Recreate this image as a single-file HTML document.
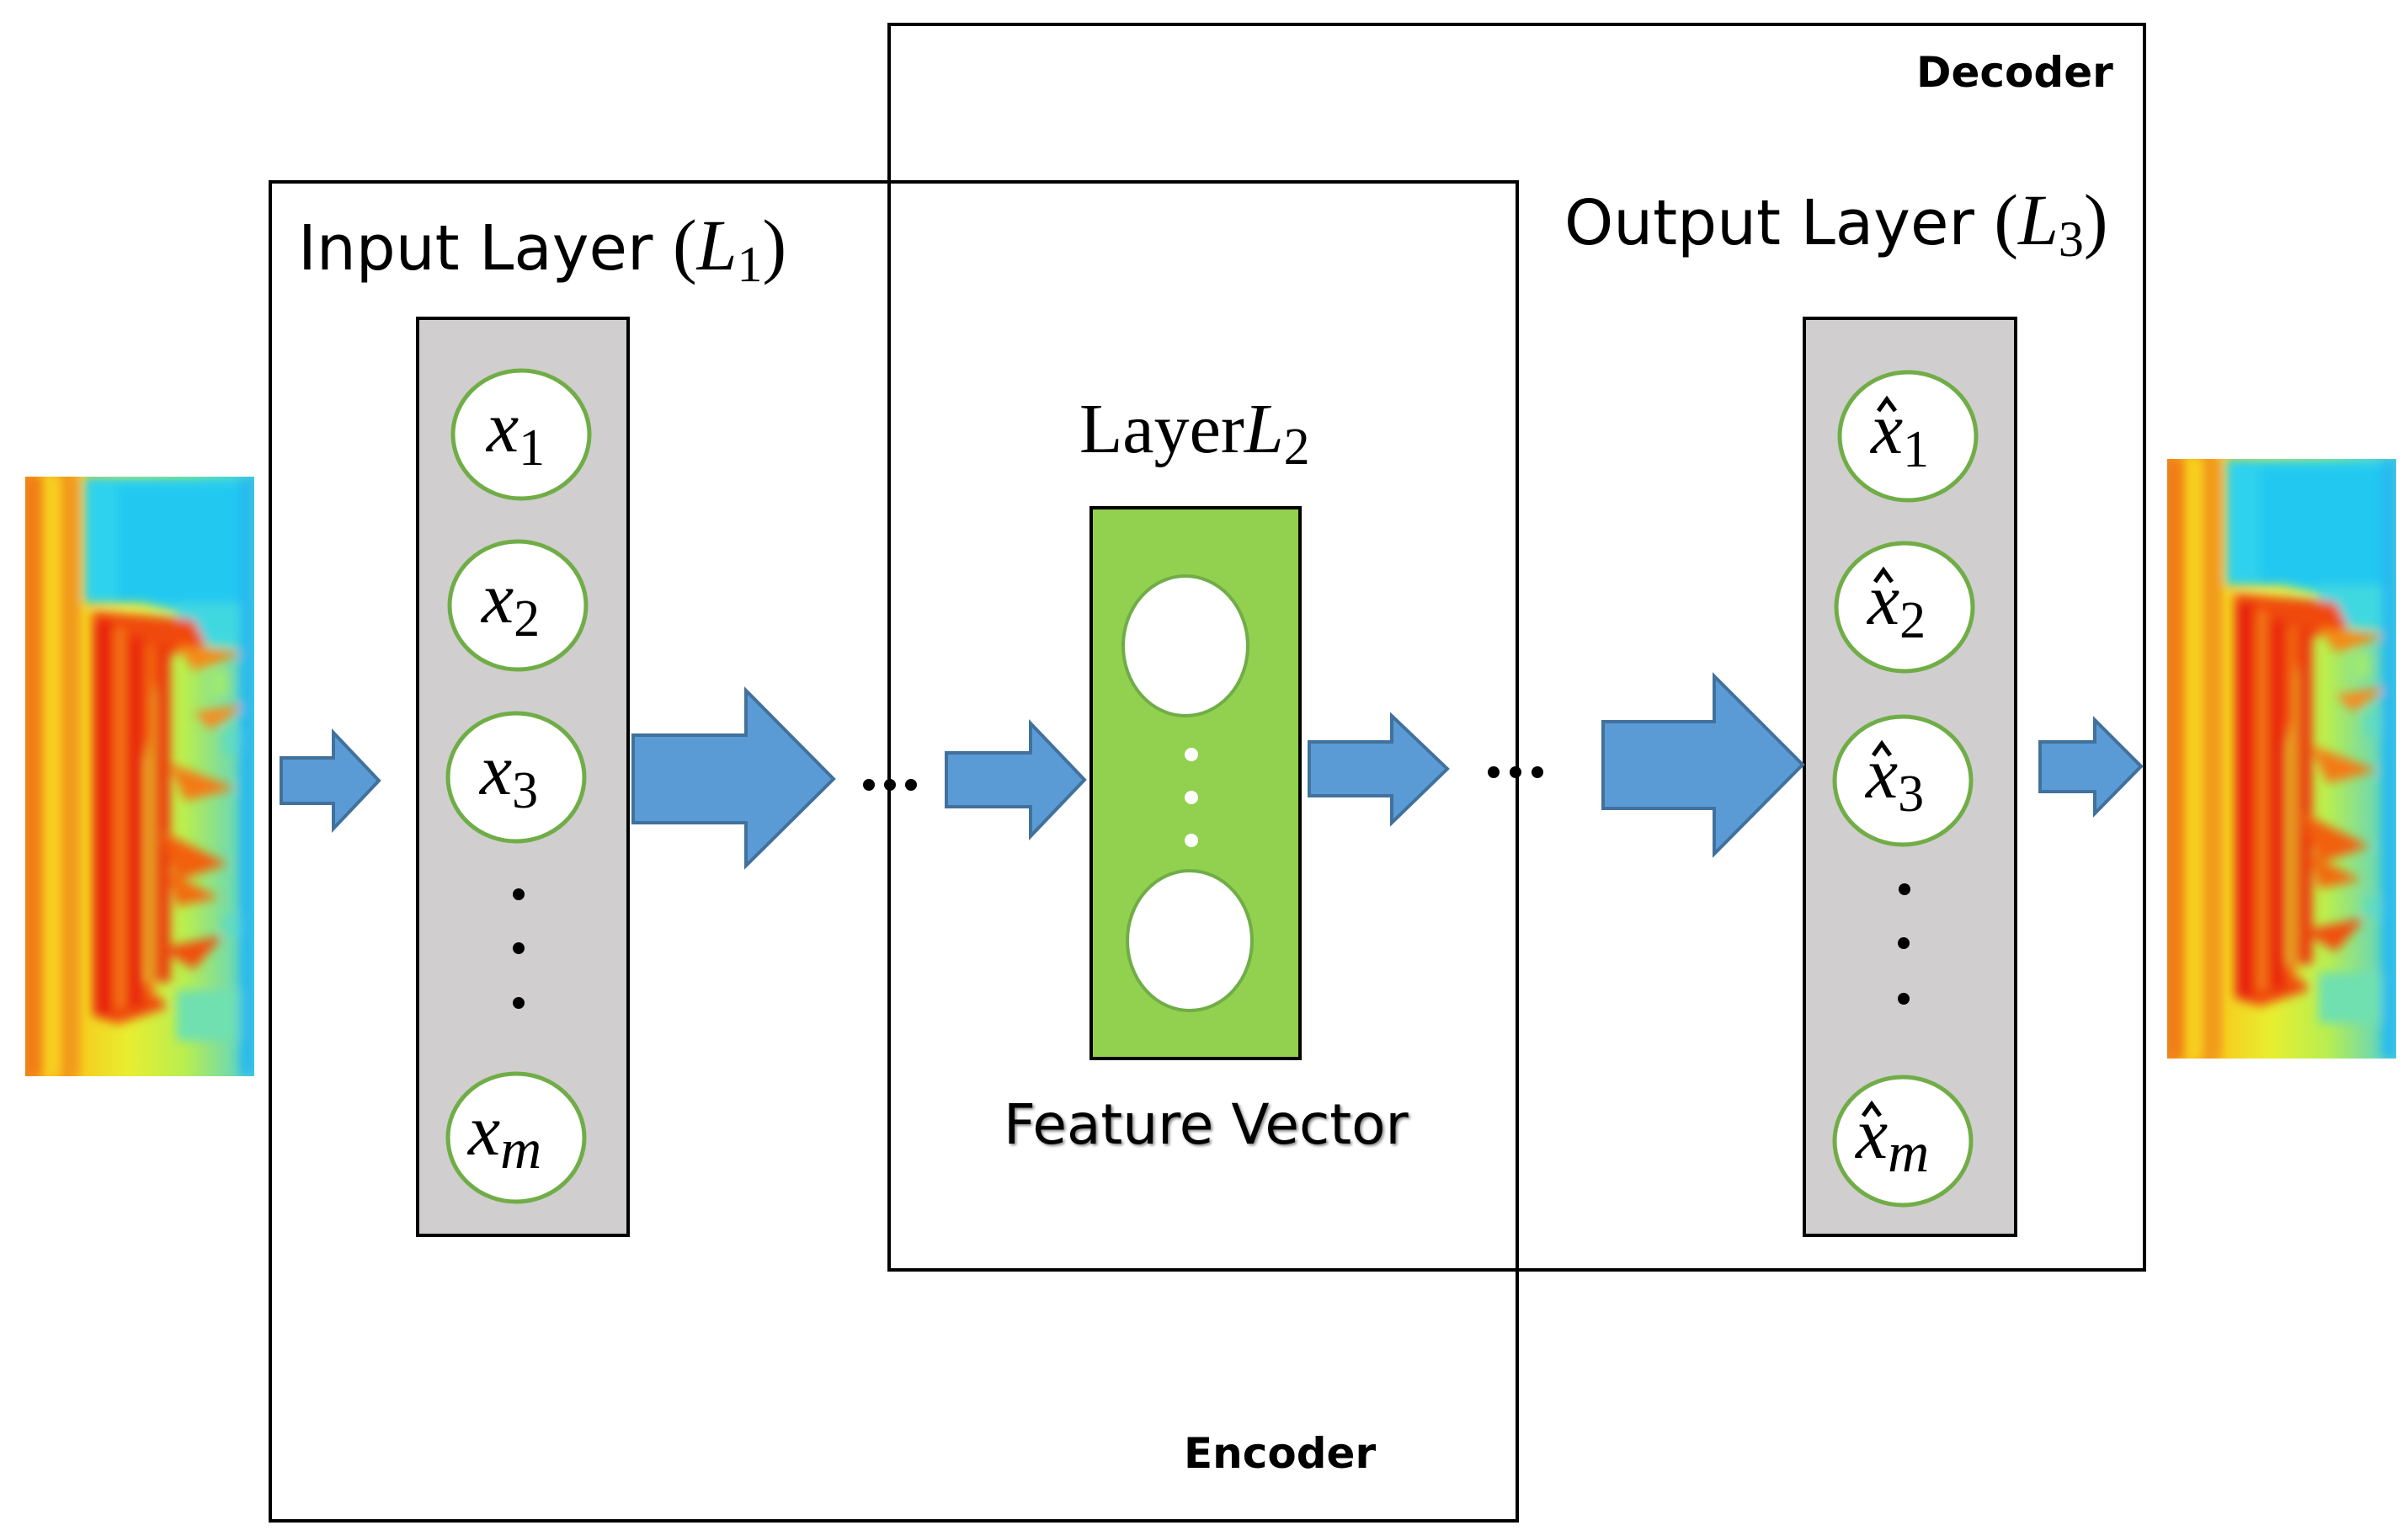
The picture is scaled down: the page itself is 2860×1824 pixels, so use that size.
<!DOCTYPE html>
<html><head><meta charset="utf-8"><style>
html,body{margin:0;padding:0;background:#fff;}
svg{display:block;}
.t{font-family:"DejaVu Sans","Liberation Sans",sans-serif;fill:#000;}
.m{font-family:"Liberation Serif",serif;font-style:italic;fill:#000;}
.s{font-family:"Liberation Serif",serif;fill:#000;}
</style></head><body>
<svg width="2860" height="1824" viewBox="0 0 2860 1824" xmlns="http://www.w3.org/2000/svg">
<defs>
<filter id="bl" x="0" y="0" width="1" height="1"><feGaussianBlur stdDeviation="6"/></filter>
<linearGradient id="bg" x1="0" y1="0" x2="1" y2="0">
<stop offset="0" stop-color="#f08a1a"/><stop offset="0.1" stop-color="#f7c21a"/><stop offset="0.18" stop-color="#f39a18"/><stop offset="0.26" stop-color="#f5d020"/><stop offset="0.45" stop-color="#e8ee30"/><stop offset="0.7" stop-color="#b8ee50"/><stop offset="1" stop-color="#50d0d8"/>
</linearGradient>
<clipPath id="cp"><rect x="0" y="0" width="272" height="712"/></clipPath>
<g id="spec">
<g clip-path="url(#cp)">
<rect x="0" y="0" width="272" height="712" fill="url(#bg)"/>
<g filter="url(#bl)">
<path d="M70 0 H272 V170 L200 165 L140 150 L70 150 Z" fill="#2fd2ee"/>
<path d="M110 10 H272 V150 H110 Z" fill="#22c8f0"/>
<path d="M180 150 H272 V200 H180 Z" fill="#40d8e0"/>
<path d="M80 160 L200 170 L215 200 L160 215 L140 340 L140 600 L170 630 L110 650 L80 640 Z" fill="#f04a0a"/>
<rect x="82" y="170" width="20" height="470" fill="#e8200a"/>
<rect x="108" y="180" width="10" height="450" fill="#f37a18"/>
<rect x="122" y="190" width="18" height="440" fill="#e9280a"/>
<rect x="145" y="200" width="8" height="420" fill="#f27018"/>
<rect x="156" y="200" width="16" height="400" fill="#ec380a"/>
<path d="M160 420 L240 460 L180 480 Z" fill="#f26010"/>
<path d="M160 560 L235 545 L200 585 Z" fill="#f05010"/>
<path d="M170 340 L250 370 L190 385 Z" fill="#f47a18"/>
<path d="M170 470 L230 500 L180 510 Z" fill="#f26a10"/>
<path d="M200 280 L265 270 L220 300 Z" fill="#f78a20"/>
<path d="M180 200 L260 210 L200 230 Z" fill="#f58a18"/>
<rect x="180" y="610" width="92" height="60" fill="#70e0b0"/>
<rect x="220" y="230" width="20" height="30" fill="#a0ea70"/>
<rect x="235" y="300" width="37" height="30" fill="#60dcc0"/>
<rect x="235" y="520" width="37" height="25" fill="#60dcc0"/>
<rect x="255" y="0" width="17" height="712" fill="#28b8f0"/>
<rect x="0" y="0" width="18" height="712" fill="#f07a18"/>
<rect x="28" y="0" width="12" height="712" fill="#f8d820"/>
<rect x="48" y="0" width="14" height="712" fill="#f0981a"/>
</g></g></g>
</defs>

<rect x="321" y="216" width="1481" height="1590" fill="none" stroke="#000" stroke-width="4"/>
<rect x="1056" y="29" width="1491" height="1479" fill="none" stroke="#000" stroke-width="4"/>

<text class="t" x="2276" y="103" font-size="50" font-weight="bold">Decoder</text>
<text class="t" x="1406" y="1743" font-size="50" font-weight="bold">Encoder</text>

<use href="#spec" x="30" y="566"/>
<use href="#spec" x="2574" y="545"/>

<rect x="496" y="378" width="250" height="1089" fill="#d0cece" stroke="#000" stroke-width="4"/>
<g fill="#fff" stroke="#70ad47" stroke-width="5">
<ellipse cx="619" cy="516" rx="81" ry="76"/>
<ellipse cx="615" cy="719" rx="81" ry="76"/>
<ellipse cx="613" cy="923" rx="81" ry="76"/>
<ellipse cx="613" cy="1351" rx="81" ry="76"/>
</g>
<g fill="#000"><circle cx="616" cy="1062" r="7"/><circle cx="616" cy="1126" r="7"/><circle cx="616" cy="1191" r="7"/></g>
<g class="m" font-size="86">
<text x="578" y="536">x<tspan class="s" font-style="normal" font-size="62" dy="16">1</tspan></text>
<text x="572" y="739">x<tspan class="s" font-style="normal" font-size="62" dy="16">2</tspan></text>
<text x="570" y="943">x<tspan class="s" font-style="normal" font-size="62" dy="16">3</tspan></text>
<text x="556" y="1371">x<tspan font-size="68" dy="16">m</tspan></text>
</g>

<rect x="2143" y="378" width="251" height="1089" fill="#d0cece" stroke="#000" stroke-width="4"/>
<g fill="#fff" stroke="#70ad47" stroke-width="5">
<ellipse cx="2266" cy="518" rx="81" ry="76"/>
<ellipse cx="2262" cy="721" rx="81" ry="76"/>
<ellipse cx="2260" cy="927" rx="81" ry="76"/>
<ellipse cx="2260" cy="1355" rx="81" ry="76"/>
</g>
<g fill="#000"><circle cx="2262" cy="1056" r="7"/><circle cx="2261" cy="1120" r="7"/><circle cx="2261" cy="1186" r="7"/></g>
<g class="m" font-size="86">
<text x="2222" y="538">x<tspan class="s" font-style="normal" font-size="62" dy="16">1</tspan></text>
<text x="2218" y="741">x<tspan class="s" font-style="normal" font-size="62" dy="16">2</tspan></text>
<text x="2216" y="947">x<tspan class="s" font-style="normal" font-size="62" dy="16">3</tspan></text>
<text x="2204" y="1375">x<tspan font-size="68" dy="16">m</tspan></text>
</g>
<g fill="none" stroke="#000" stroke-width="5">
<polyline points="2231,488 2241,474 2251,488"/>
<polyline points="2227,691 2237,677 2247,691"/>
<polyline points="2225,897 2235,883 2245,897"/>
<polyline points="2213,1325 2223,1311 2233,1325"/>
</g>

<rect x="1296" y="603" width="248" height="654" fill="#92d050" stroke="#000" stroke-width="4"/>
<g fill="#fff" stroke="#70ad47" stroke-width="4">
<ellipse cx="1408" cy="767" rx="74" ry="83"/>
<ellipse cx="1413" cy="1117" rx="74" ry="83"/>
</g>
<g fill="#fff"><circle cx="1415" cy="896" r="8"/><circle cx="1415" cy="947" r="8"/><circle cx="1415" cy="998" r="8"/></g>

<text class="t" x="354" y="320" font-size="74">Input Layer <tspan class="s" font-size="86">(</tspan><tspan class="m" font-size="86">L</tspan><tspan class="s" font-size="60" dy="14">1</tspan><tspan class="s" font-size="86" dy="-14">)</tspan></text>
<text class="t" x="1858" y="290" font-size="74">Output Layer <tspan class="s" font-size="86">(</tspan><tspan class="m" font-size="86">L</tspan><tspan class="s" font-size="60" dy="14">3</tspan><tspan class="s" font-size="86" dy="-14">)</tspan></text>
<text class="s" x="1282" y="537" font-size="84">Layer<tspan class="m">L</tspan><tspan font-size="62" dy="14">2</tspan></text>
<text class="t" x="1192" y="1358" font-size="66" style="text-shadow:2px 2px 3px #888">Feature Vector</text>

<g fill="#5b9bd5" stroke="#41719c" stroke-width="4" stroke-linejoin="miter">
<polygon points="334,900 396,900 396,870 450,927 396,984 396,954 334,954"/>
<polygon points="752,873 886,873 886,820 990,925 886,1028 886,977 752,977"/>
<polygon points="1124,894 1224,894 1224,859 1288,926 1224,993 1224,958 1124,958"/>
<polygon points="1555,881 1653,881 1653,850 1719,913 1653,977 1653,945 1555,945"/>
<polygon points="1904,857 2036,857 2036,803 2141,908 2036,1014 2036,960 1904,960"/>
<polygon points="2423,881 2488,881 2488,855 2543,910 2488,966 2488,940 2423,940"/>
</g>

<g fill="#000">
<circle cx="1032" cy="932" r="7"/><circle cx="1057" cy="932" r="7"/><circle cx="1082" cy="932" r="7"/>
<circle cx="1774" cy="917" r="7"/><circle cx="1800" cy="917" r="7"/><circle cx="1826" cy="917" r="7"/>
</g>
</svg>
</body></html>
